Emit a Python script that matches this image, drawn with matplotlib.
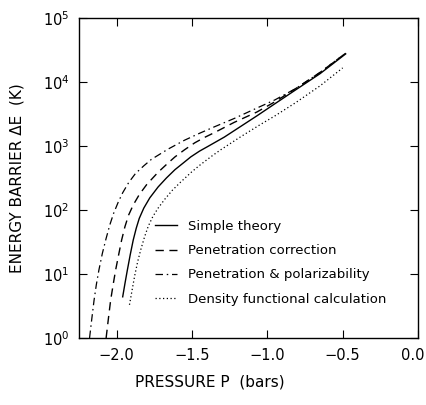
"""
Energy barrier vs pressure, four model curves on a log scale.
"""

import matplotlib
matplotlib.use("Agg")
import matplotlib.pyplot as plt
import matplotlib.transforms as mtransforms
from matplotlib.ticker import LogLocator, NullLocator


SIMPLE_P = [-1.96, -1.945, -1.93, -1.91, -1.89, -1.87, -1.85, -1.82, -1.78,
            -1.725, -1.67, -1.613, -1.55, -1.508, -1.45, -1.397, -1.285,
            -1.18, -1.07, -0.95, -0.81, -0.65, -0.48]
SIMPLE_E = [4.4, 7.1, 11.2, 20, 34, 52, 74, 107, 155,
            229, 316, 427, 562, 676, 832, 977, 1380,
            2000, 2950, 4570, 7590, 13500, 27500]

PENETRATION_P = [-2.07, -2.055, -2.04, -2.02, -2.007, -1.985, -1.967, -1.945,
                 -1.921, -1.89, -1.85, -1.80, -1.725, -1.67, -1.613, -1.55,
                 -1.482, -1.42, -1.351, -1.22, -1.07, -0.95, -0.81, -0.65,
                 -0.48]
PENETRATION_E = [1.0, 2.0, 3.9, 7.6, 11.5, 21, 34, 55,
                 83, 120, 174, 251, 389, 513, 676, 871,
                 1120, 1350, 1620, 2340, 3390, 4900, 7940, 14100,
                 28200]

POLARIZ_P = [-2.18, -2.165, -2.15, -2.135, -2.118, -2.095, -2.07, -2.045,
             -2.02, -1.99, -1.96, -1.92, -1.875, -1.82, -1.77, -1.66,
             -1.55, -1.45, -1.35, -1.22, -1.10, -0.95, -0.81, -0.65, -0.48]
POLARIZ_E = [1.0, 2.0, 3.9, 6.8, 11.5, 21, 36, 59,
             89, 132, 186, 269, 372, 490, 617, 891,
             1230, 1580, 2000, 2690, 3630, 5250, 7940, 14100, 28200]

DENSITY_P = [-1.915, -1.90, -1.88, -1.86, -1.84, -1.815, -1.79, -1.76,
             -1.725, -1.68, -1.63, -1.574, -1.50, -1.443, -1.37, -1.31,
             -1.18, -1.05, -0.95, -0.81, -0.65, -0.50]
DENSITY_E = [3.3, 5.2, 9.5, 15.8, 24, 38, 56, 79,
             107, 148, 204, 275, 398, 513, 692, 871,
             1380, 2140, 2950, 4790, 8710, 16600]

LABELS = [
    "Simple theory",
    "Penetration correction",
    "Penetration & polarizability",
    "Density functional calculation"
]

X_TICKS = [-2.0, -1.5, -1.0, -0.5, 0.0]
X_TICK_LABELS = ["\u22122.0", "\u22121.5", "\u22121.0", "\u22120.5", "0.0"]


def main() -> None:
    """
    Draw the chart and save it.
    """

    fig = plt.figure(figsize=(4.26, 4.05), dpi=100)
    ax = fig.add_axes([79 / 426, 67 / 405, 339 / 426, 320 / 405])

    ax.plot(SIMPLE_P, SIMPLE_E, color="black", lw=1.0,
            label=LABELS[0])
    ax.plot(PENETRATION_P, PENETRATION_E, color="black", lw=1.0,
            dashes=(6, 4), label=LABELS[1])
    ax.plot(POLARIZ_P, POLARIZ_E, color="black", lw=0.9,
            dashes=(6, 3, 1.2, 3), label=LABELS[2])
    ax.plot(DENSITY_P, DENSITY_E, color="black", lw=0.9,
            dashes=(1, 2), label=LABELS[3])

    ax.set_yscale("log")
    ax.set_xlim(-2.25, 0.0)
    ax.set_ylim(1, 1e5)
    ax.set_xticks(X_TICKS)
    ax.set_xticklabels(X_TICK_LABELS)
    ax.yaxis.set_major_locator(LogLocator(base=10, numticks=10))
    ax.yaxis.set_minor_locator(NullLocator())

    ax.tick_params(direction="in", length=6, width=0.8, top=True,
                   right=True, labelsize=10.5, pad=7)
    for spine in ax.spines.values():
        spine.set_linewidth(1.0)

    # keep the last x label inside the picture
    last = ax.get_xticklabels()[-1]
    shift = mtransforms.ScaledTranslation(-5 / 100, 0, fig.dpi_scale_trans)
    last.set_transform(last.get_transform() + shift)

    ax.legend(loc="upper left", bbox_to_anchor=(0.225, 0.369),
              frameon=False, fontsize=9.5, handlelength=1.67,
              handletextpad=0.83, labelspacing=0.85,
              borderpad=0, borderaxespad=0)

    fig.text(210 / 426, 1 - 382 / 405, "PRESSURE P  (bars)",
             ha="center", va="center", fontsize=11)
    fig.text(17 / 426, 1 - 178 / 405, "ENERGY BARRIER \u0394E  (K)",
             ha="center", va="center", rotation=90, fontsize=11)

    fig.savefig("out.png", dpi=100)


if __name__ == "__main__":
    main()
